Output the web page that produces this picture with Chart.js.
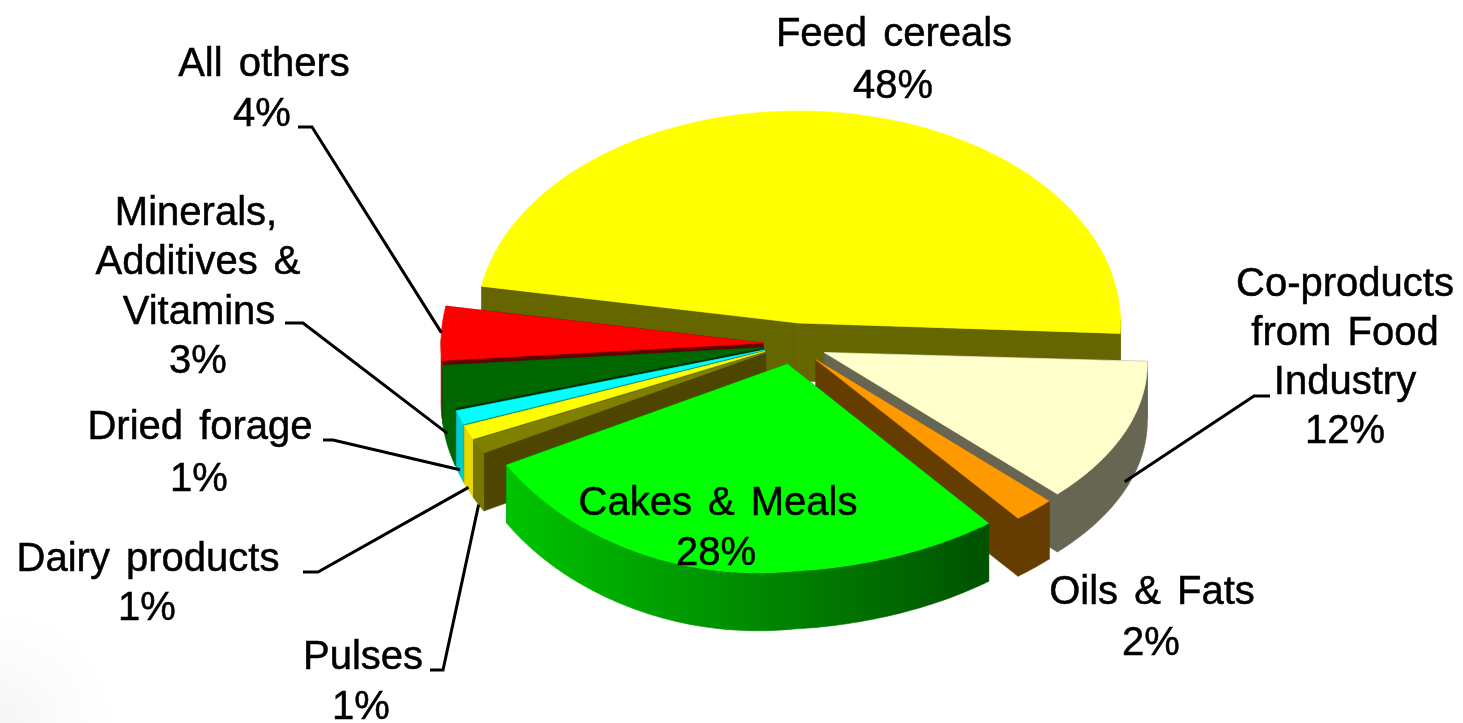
<!DOCTYPE html>
<html>
<head>
<meta charset="utf-8">
<title>Feed ingredients</title>
<script src="https://cdn.jsdelivr.net/npm/chart.js@4"></script>
<style>
  html, body { margin: 0; height: 100%; background: #fff; overflow: hidden; }
  body { background: radial-gradient(circle at 0 100%, #f5f5f5 0, #fbfbfb 60px, #fff 115px); }
  #wrap { position: absolute; left: 0; top: 0; width: 1463px; height: 723px; }
</style>
</head>
<body>
<div id="wrap"><canvas id="pie"></canvas></div>
<script>
const categories = ['Feed cereals', 'Co-products from Food Industry', 'Oils & Fats', 'Cakes & Meals', 'Pulses', 'Dairy products', 'Dried forage', 'Minerals, Additives & Vitamins', 'All others'];
const shares = [48, 12, 2, 28, 1, 1, 1, 3, 4];
const explode = [120, 120, 120, 120, 120, 120, 120, 120, 120];

const topColors = ['#ffff00', '#ffffcc', '#ff9900', '#00ff00', '#808000', '#ffff00', '#00ffff', '#006600', '#ff0000'];
const cutColors = ['#666600', '#666652', '#663d00', '#005a00', '#4d4500', '#808000', '#006666', '#003300', '#660000'];
const rimColors = ['#666600', '#666652', '#663d00', ['#00c400', '#005200'], '#787800', '#e6d800', '#00cccc', '#006600', '#cc0000'];
// back to front, the slices overlap each other
const drawOrder = [0, 8, 7, 6, 5, 4, 1, 2, 3];

// label lines, centre x and middle y of each line
const labelLines = [
    [['Feed cereals', 894, 33], ['48%', 893, 85]],
    [['Co-products', 1345, 283], ['from Food', 1345, 332], ['Industry', 1345, 381], ['12%', 1345, 430]],
    [['Oils & Fats', 1152, 591], ['2%', 1151, 642]],
    [['Cakes & Meals', 718, 502], ['28%', 716, 552]],
    [['Pulses', 363, 656], ['1%', 361, 706]],
    [['Dairy products', 148, 558], ['1%', 147, 607]],
    [['Dried forage', 200, 426], ['1%', 199, 478]],
    [['Minerals,', 196, 212], ['Additives &', 198, 261], ['Vitamins', 199, 311], ['3%', 198, 360]],
    [['All others', 264, 63], ['4%', 262, 113]]
];
// leader start + elbow; the far end comes from the slice itself
const leaderStart = [null, [1270, 396], null, null, [430, 670], [303, 572], [323, 440], [285, 323], [298, 127]];
const leaderElbow = [null, [1254, 396], null, null, [443, 670], [318, 572], [333, 440], [303, 323], [312, 127]];
const leaderDrop = [0, 0.85, 0, 0, 1.0, 0.95, 0.9, 0.8, 0];

// the flat pie is laid over on its back, front half a little sheared
const centerX = 795, centerY = 344, radiusX = 322, radiusBack = 212, radiusFront = 207;
const skewLeft = 0.1, skewRight = 0.06, driftLeft = 0.1, driftRight = 0.05, depth = 58;

function flatten(arc, x, y) {
    const u = (x - arc.x) / arc.outerRadius;
    const v = (y - arc.y) / arc.outerRadius;
    if (v < 0) return [centerX + radiusX * u, centerY + radiusBack * v];
    const drift = u < 0 ? driftLeft * v * v : driftRight * v;
    const skew = u < 0 ? skewLeft : skewRight;
    return [centerX + radiusX * (u + drift * Math.abs(u)), centerY + radiusFront * v * (1 - skew * u)];
}

function slicePoints(el, offset) {
    const arc = el.getProps(['x', 'y', 'startAngle', 'endAngle', 'outerRadius']);
    const mid = (arc.startAngle + arc.endAngle) / 2;
    const ox = arc.x + Math.cos(mid) * offset;
    const oy = arc.y + Math.sin(mid) * offset;
    const rim = [];
    const front = [];
    const steps = Math.max(2, Math.ceil((arc.endAngle - arc.startAngle) * 60));
    for (let s = 0; s <= steps; s++) {
        const a = arc.startAngle + (arc.endAngle - arc.startAngle) * s / steps;
        const p = flatten(arc, ox + Math.cos(a) * arc.outerRadius, oy + Math.sin(a) * arc.outerRadius);
        rim.push(p);
        if (Math.sin(a) > -0.02) front.push(p);
    }
    const midRim = flatten(arc, ox + Math.cos(mid) * arc.outerRadius, oy + Math.sin(mid) * arc.outerRadius);
    return { apex: flatten(arc, ox, oy), rim, front, midRim };
}

function fillPath(ctx, pts, fill) {
    ctx.beginPath();
    pts.forEach((p, i) => (i ? ctx.lineTo(p[0], p[1]) : ctx.moveTo(p[0], p[1])));
    ctx.closePath();
    ctx.fillStyle = fill;
    ctx.strokeStyle = fill;
    ctx.lineWidth = 0.6;
    ctx.fill();
    ctx.stroke();
}

const down = p => [p[0], p[1] + depth];

const solidPie = {
    id: 'solidPie',
    beforeDatasetDraw(chart, args) {
        const ctx = chart.ctx;
        const elements = args.meta.data;
        ctx.save();
        drawOrder.forEach(i => {
            const { apex, rim, front } = slicePoints(elements[i], elements[i].options.offset / 4);
            const first = rim[0], last = rim[rim.length - 1];
            fillPath(ctx, [apex, first, down(first), down(apex)], cutColors[i]);
            fillPath(ctx, [apex, last, down(last), down(apex)], cutColors[i]);
            let rimFill = rimColors[i];
            if (Array.isArray(rimFill)) {
                const xs = rim.map(p => p[0]);
                const g = ctx.createLinearGradient(Math.min(...xs), 0, Math.max(...xs), 0);
                g.addColorStop(0, rimFill[0]);
                g.addColorStop(1, rimFill[1]);
                rimFill = g;
            }
            if (front.length > 1) fillPath(ctx, front.concat(front.map(down).reverse()), rimFill);
            fillPath(ctx, [apex].concat(rim), topColors[i]);
        });
        ctx.restore();
        return false;
    },
    afterDraw(chart) {
        const ctx = chart.ctx;
        const elements = chart.getDatasetMeta(0).data;
        ctx.save();
        ctx.strokeStyle = '#000';
        ctx.lineWidth = 3;
        ctx.lineJoin = 'miter';
        leaderStart.forEach((start, i) => {
            if (!start) return;
            const end = slicePoints(elements[i], elements[i].options.offset / 4).midRim;
            ctx.beginPath();
            ctx.moveTo(start[0], start[1]);
            ctx.lineTo(leaderElbow[i][0], leaderElbow[i][1]);
            ctx.lineTo(end[0], end[1] + depth * leaderDrop[i]);
            ctx.stroke();
        });
        ctx.fillStyle = '#000';
        ctx.lineWidth = 0.5;
        ctx.font = '40px "Liberation Sans", Arial, sans-serif';
        ctx.textAlign = 'center';
        ctx.textBaseline = 'middle';
        ctx.wordSpacing = '5px';
        labelLines.forEach(lines => lines.forEach(l => {
            ctx.fillText(l[0], l[1], l[2] + 2);
            ctx.strokeText(l[0], l[1], l[2] + 2);
        }));
        ctx.restore();
    }
};

new Chart(document.getElementById('pie'), {
    type: 'pie',
    data: {
        labels: categories,
        datasets: [{ data: shares, offset: explode, backgroundColor: topColors, borderWidth: 0 }]
    },
    options: {
        responsive: true,
        maintainAspectRatio: false,
        animation: false,
        events: [],
        rotation: -80,
        plugins: { legend: { display: false }, tooltip: { enabled: false } }
    },
    plugins: [solidPie]
});
</script>
</body>
</html>
